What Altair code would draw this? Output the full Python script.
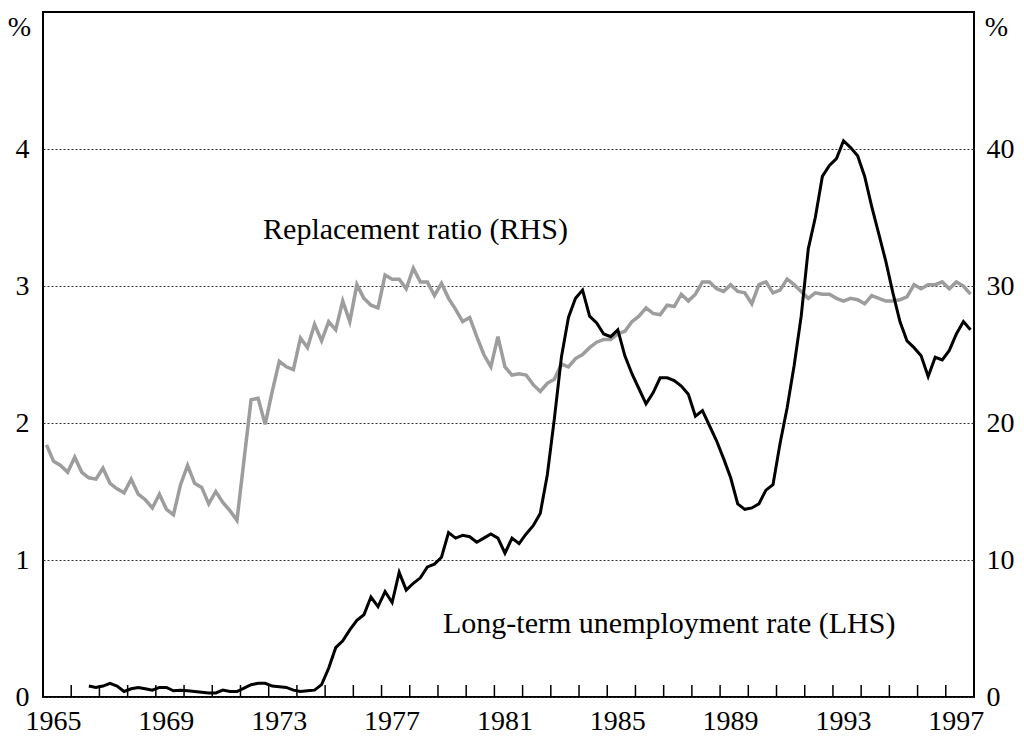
import altair as alt
import pandas as pd

FONT = "Liberation Serif"

# Replacement ratio (RHS, %), quarterly from 1965 Q1
rr_start = 1965.125
replacement_ratio = [
    18.4, 17.2, 16.9, 16.4, 17.5, 16.4, 16.0, 15.9, 16.7, 15.6,
    15.2, 14.9, 15.9, 14.8, 14.4, 13.8, 14.8, 13.7, 13.3, 15.5,
    16.9, 15.6, 15.3, 14.1, 15.0, 14.2, 13.6, 12.9, 17.3, 21.7,
    21.8, 19.9, 22.3, 24.5, 24.1, 23.9, 26.2, 25.5, 27.2, 26.0,
    27.4, 26.8, 28.9, 27.4, 30.1, 29.1, 28.6, 28.4, 30.8, 30.5,
    30.5, 29.8, 31.3, 30.3, 30.3, 29.3, 30.2, 29.1, 28.3, 27.4,
    27.7, 26.3, 25.0, 24.1, 26.3, 24.1, 23.5, 23.6, 23.5, 22.8,
    22.3, 22.9, 23.2, 24.3, 24.1, 24.7, 25.0, 25.5, 25.9, 26.1,
    26.1, 26.5, 26.7, 27.4, 27.8, 28.4, 28.0, 27.9, 28.6, 28.5,
    29.4, 28.9, 29.4, 30.3, 30.3, 29.8, 29.6, 30.1, 29.6, 29.5,
    28.7, 30.1, 30.3, 29.5, 29.7, 30.5, 30.1, 29.6, 29.1, 29.5,
    29.4, 29.4, 29.1, 28.9, 29.1, 29.0, 28.7, 29.3, 29.1, 28.9,
    28.9, 29.0, 29.2, 30.1, 29.8, 30.1, 30.1, 30.3, 29.8, 30.3,
    30.0, 29.4,
]

# Long-term unemployment rate (LHS, %), quarterly from 1966 Q3
lt_start = 1966.625
lt_unemployment = [
    0.08, 0.07, 0.08, 0.10, 0.08, 0.04, 0.06, 0.07, 0.06, 0.05,
    0.07, 0.07, 0.045, 0.05, 0.045, 0.04, 0.035, 0.03, 0.03, 0.05,
    0.04, 0.04, 0.065, 0.09, 0.10, 0.10, 0.08, 0.075, 0.07, 0.05,
    0.04, 0.045, 0.05, 0.09, 0.21, 0.36, 0.41, 0.49, 0.56, 0.60,
    0.73, 0.66, 0.77, 0.69, 0.91, 0.78, 0.83, 0.87, 0.95, 0.97,
    1.02, 1.20, 1.16, 1.18, 1.17, 1.13, 1.16, 1.19, 1.16, 1.05,
    1.16, 1.12, 1.19, 1.25, 1.34, 1.62, 2.03, 2.48, 2.77, 2.91,
    2.97, 2.78, 2.73, 2.65, 2.63, 2.68, 2.49, 2.36, 2.25, 2.14,
    2.22, 2.33, 2.33, 2.31, 2.27, 2.21, 2.05, 2.09, 1.98, 1.87,
    1.74, 1.60, 1.41, 1.37, 1.38, 1.41, 1.51, 1.55, 1.85, 2.11,
    2.42, 2.78, 3.27, 3.50, 3.80, 3.88, 3.93, 4.06, 4.01, 3.95,
    3.80, 3.58, 3.38, 3.18, 2.95, 2.74, 2.60, 2.55, 2.49, 2.34,
    2.48, 2.46, 2.53, 2.65, 2.74, 2.68,
]

year_labels = list(range(1965, 1998, 4))
minor_ticks = list(range(1966, 1998))
left_ticks = [0, 1, 2, 3, 4]
right_ticks = [0, 10, 20, 30, 40]

annotations = pd.DataFrame({
    "text": ["Replacement ratio (RHS)", "Long-term unemployment rate (LHS)"],
    "x": [1972.8, 1979.18],
    "y": [3.34, 0.47],
})

df_rr = pd.DataFrame({
    "date": [rr_start + 0.25 * i for i in range(len(replacement_ratio))],
    "value": replacement_ratio,
})
df_lt = pd.DataFrame({
    "date": [lt_start + 0.25 * i for i in range(len(lt_unemployment))],
    "value": lt_unemployment,
})
df_ticks = pd.DataFrame({"year": minor_ticks})

W, H = 931, 685

x_scale = alt.Scale(domain=[1965, 1998], nice=False, zero=False)
x_axis = alt.Axis(
    values=year_labels, format="d", title=None,
    labelFont=FONT, labelFontSize=28, labelColor="black",
    labelPadding=10, labelOffset=10, labelFlush=False, labelOverlap=False,
    ticks=False, tickSize=0, domain=False, grid=False,
)

left_scale = alt.Scale(domain=[0, 5], nice=False, zero=True)
left_axis = alt.Axis(
    orient="left", values=left_ticks, format="d",
    labelFont=FONT, labelFontSize=28, labelColor="black",
    labelPadding=14, ticks=False, tickSize=0, domain=False,
    grid=True, gridColor="#333333", gridDash=[2, 2], gridWidth=1,
    title="%", titleAngle=0, titleFont=FONT, titleFontSize=28,
    titleFontWeight="normal", titleColor="black",
    titleX=-24, titleY=15, titleAlign="center", titleBaseline="middle",
)

gray = alt.Chart(df_rr).mark_line(color="#9d9d9d", strokeWidth=3.5).encode(
    x=alt.X("date:Q", scale=x_scale, axis=x_axis),
    y=alt.Y(
        "value:Q",
        scale=alt.Scale(domain=[0, 50], nice=False, zero=True),
        axis=alt.Axis(
            orient="right", values=right_ticks, format="d",
            labelFont=FONT, labelFontSize=28, labelColor="black",
            labelPadding=12, ticks=False, tickSize=0, domain=False, grid=False,
            title="%", titleAngle=0, titleFont=FONT, titleFontSize=28,
            titleFontWeight="normal", titleColor="black",
            titleX=22, titleY=15, titleAlign="center", titleBaseline="middle",
        ),
    ),
)

black_line = alt.Chart(df_lt).mark_line(color="black", strokeWidth=3).encode(
    x=alt.X("date:Q", scale=x_scale, axis=x_axis),
    y=alt.Y("value:Q", scale=left_scale, axis=left_axis),
)

ann = alt.Chart(annotations).mark_text(
    align="left", baseline="alphabetic", font=FONT, fontSize=30, color="black"
).encode(
    x=alt.X("x:Q", scale=x_scale, axis=x_axis),
    y=alt.Y("y:Q", scale=left_scale, axis=left_axis),
    text="text:N",
)

left = alt.layer(black_line, ann)

ticks = alt.Chart(df_ticks).mark_rule(color="black", strokeWidth=1.5).encode(
    x=alt.X("year:Q", scale=x_scale, axis=x_axis),
    y=alt.value(H),
    y2=alt.value(H - 12),
)

chart = alt.layer(ticks, gray, left).resolve_scale(y="independent").properties(
    width=W, height=H,
    background="white",
    autosize=alt.AutoSizeParams(type="none"),
    padding={"left": 35, "top": 4, "right": 42, "bottom": 41},
).configure_view(
    stroke="black", strokeWidth=2
)

chart.save("out.html", embed_options={"renderer": "svg", "actions": False})
